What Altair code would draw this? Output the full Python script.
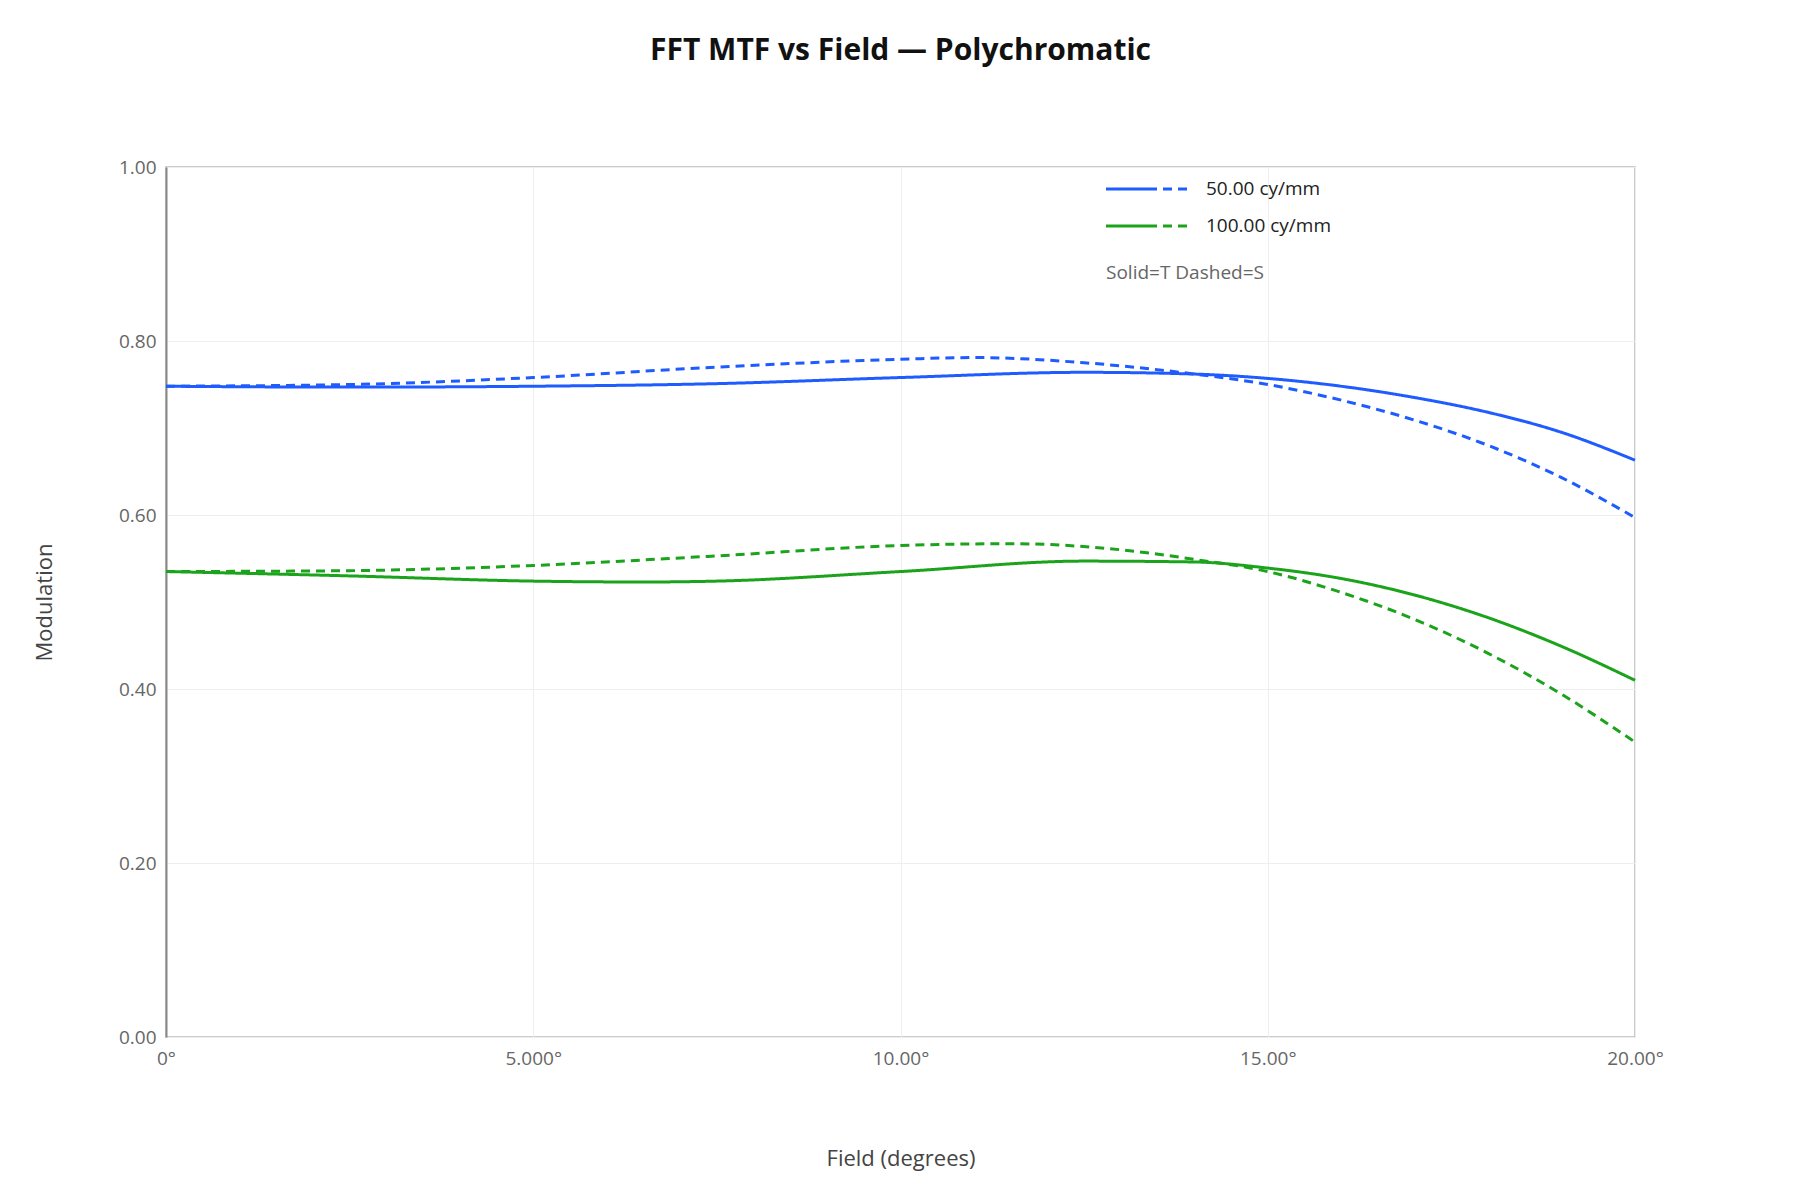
import altair as alt
import pandas as pd

FONT = "Open Sans"

fields_bt = [0, 2.5, 5, 7.5, 10, 12.5, 14, 15, 16, 17, 18, 19, 20]
blue_t = [0.748, 0.747, 0.748, 0.751, 0.758, 0.764, 0.762, 0.757, 0.748, 0.735, 0.718, 0.695, 0.663]
fields_bs = [0, 2.5, 5, 7.5, 10, 11, 12.5, 14, 15, 16, 17, 18, 19, 20]
blue_s = [0.748, 0.750, 0.758, 0.770, 0.779, 0.781, 0.775, 0.762, 0.750, 0.732, 0.709, 0.680, 0.643, 0.597]
fields_gt = [0, 2.5, 5, 6.5, 7.5, 10, 12.5, 14, 15, 16, 17, 18, 19, 20]
green_t = [0.535, 0.530, 0.524, 0.523, 0.524, 0.535, 0.547, 0.546, 0.539, 0.527, 0.508, 0.482, 0.449, 0.410]
fields_gs = [0, 2.5, 5, 7.5, 10, 11.5, 13, 14, 15, 16, 17, 18, 19, 20]
green_s = [0.535, 0.536, 0.542, 0.553, 0.565, 0.567, 0.560, 0.549, 0.535, 0.511, 0.480, 0.441, 0.394, 0.339]

BLUE = "#1f5cff"
GREEN = "#1ba31b"

rows = []
for f, v in zip(fields_bt, blue_t):
    rows.append({"field": f, "mtf": v, "series": "50T"})
for f, v in zip(fields_bs, blue_s):
    rows.append({"field": f, "mtf": v, "series": "50S"})
for f, v in zip(fields_gt, green_t):
    rows.append({"field": f, "mtf": v, "series": "100T"})
for f, v in zip(fields_gs, green_s):
    rows.append({"field": f, "mtf": v, "series": "100S"})
df = pd.DataFrame(rows)

x = alt.X("field:Q", title="Field (degrees)", scale=alt.Scale(domain=[0, 20], nice=False),
          axis=alt.Axis(values=[0, 5, 10, 15, 20],
                        labelExpr="datum.value == 0 ? '0°' : datum.value == 5 ? '5.000°' : format(datum.value, '.2f') + '°'",
                        titlePadding=80, labelPadding=12, tickSize=0, domain=False, labelFlush=False))
y = alt.Y("mtf:Q", title="Modulation", scale=alt.Scale(domain=[0, 1], nice=False),
          axis=alt.Axis(values=[0, 0.2, 0.4, 0.6, 0.8, 1.0], format=".2f", titlePadding=62,
                        labelPadding=10, tickSize=0, domainColor="#888", domainWidth=2,
                        labelFlush=False))

def curve(series, color, dashed):
    return alt.Chart(df).transform_filter(alt.datum.series == series).mark_line(
        color=color, strokeWidth=3, interpolate="monotone",
        strokeDash=[9, 6] if dashed else [1, 0]).encode(x=x, y=y)

layers = [curve("50T", BLUE, False), curve("50S", BLUE, True),
          curve("100T", GREEN, False), curve("100S", GREEN, True)]

# legend
leg = pd.DataFrame({"t": [0]})
def leg_line(x1, x2, yy, color, dash):
    return alt.Chart(leg).mark_rule(color=color, strokeWidth=3, strokeDash=dash).encode(
        x=alt.value(x1), x2=alt.value(x2), y=alt.value(yy))
def leg_text(xx, yy, txt, color, size):
    return alt.Chart(leg).mark_text(text=txt, align="left", baseline="middle", font=FONT,
                                    fontSize=size, color=color).encode(x=alt.value(xx), y=alt.value(yy))

layers += [
    leg_line(940, 982, 22, BLUE, [1, 0]), leg_line(982, 1025, 22, BLUE, [9, 6]),
    leg_line(940, 982, 59, GREEN, [1, 0]), leg_line(982, 1025, 59, GREEN, [9, 6]),
    leg_text(1040, 22, "50.00 cy/mm", "#222", 19),
    leg_text(1040, 59, "100.00 cy/mm", "#222", 19),
    leg_text(940, 106, "Solid=T Dashed=S", "#666", 19),
]

chart = alt.layer(*layers).properties(
    width=1469, height=870,
    autosize=alt.AutoSizeParams(type="none"),
    padding={"left": 158, "top": 159, "right": 150, "bottom": 150},
    title=alt.TitleParams("FFT MTF vs Field — Polychromatic", font=FONT, fontSize=30,
                          fontWeight="bold", color="#111", offset=92),
).configure_view(stroke="#bbb", strokeWidth=1.5).configure_axis(
    labelFont=FONT, titleFont=FONT, labelFontSize=19, titleFontSize=22,
    labelColor="#666", titleColor="#444", titleFontWeight="normal",
    gridColor="#eee",
)

chart.save("out.html", embed_options={"renderer": "svg", "actions": False})
